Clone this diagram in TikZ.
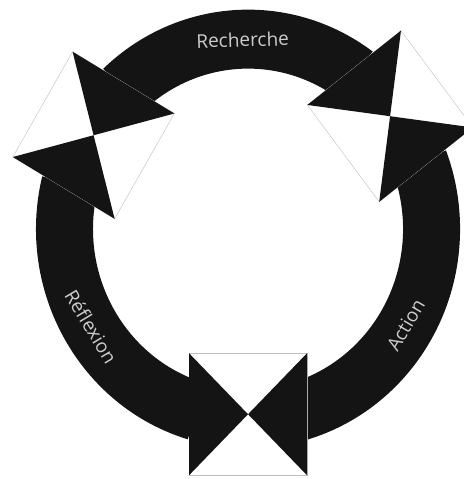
\documentclass[tikz,border=0pt]{standalone}
\usepackage{fontspec}
\setsansfont{Open Sans}
\begin{document}
\begin{tikzpicture}[x=1pt, y=1pt, yscale=1.0346, font=\sffamily\fontsize{19}{23}\selectfont,
	declare function={R=212; r=155; rj=179; a=59; cut=16.5;}]
	\useasboundingbox (-248,-241.6) rectangle (215,221.3);
	% shafts of the three arrows
	\foreach \s/\e in {37.5/149.6, 149.6/270, 270/397.5}{
		\fill[black!92] (\s+cut:R) arc (\s+cut:\e-cut:R) -- (\e-cut:r) arc (\e-cut:\s+cut:r) -- cycle;
	}
	% heads meeting in the squares
	\foreach \t in {37.5, 149.6, 270}{
		\begin{scope}[rotate=\t]
			\path (rj,0) coordinate (J) (rj-a,-a) coordinate (J1) (rj+a,-a) coordinate (J2)
			(rj+a,a) coordinate (J3) (rj-a,a) coordinate (J4);
			\filldraw[fill=white, draw=black!25, line width=0.4pt] (J1)--(J2)--(J3)--(J4)--cycle;
			\fill[black!92] (J1)--(J2)--(J)--cycle (J4)--(J3)--(J)--cycle;
		\end{scope}
	}
	\foreach \ang/\rot/\nm/\txt in {91.7/1.7/rech/Recherche, 329.5/59.5/act/Action, 211/-59/refl/Réflexion}{
		\path (\ang:183) node[text=black!20, rotate=\rot] (\nm) {\txt};
	}
\end{tikzpicture}
\end{document}
